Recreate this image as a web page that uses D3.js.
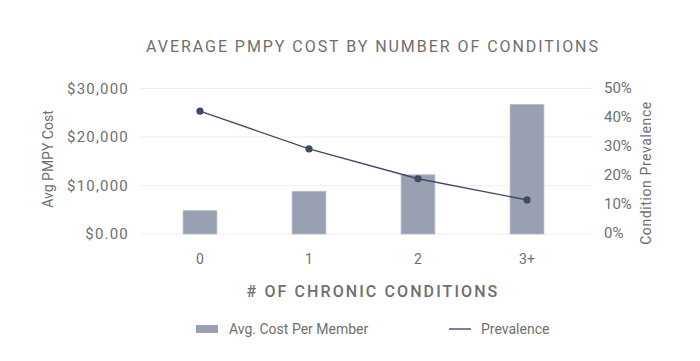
<!DOCTYPE html>
<html>
<head>
<meta charset="utf-8">
<script src="https://cdn.jsdelivr.net/npm/d3@7"></script>
<style>
  body { margin: 0; background: #fff; }
  text { font-family: Roboto, "Liberation Sans", sans-serif; fill: #6f6f6f; }
</style>
</head>
<body>
<svg id="chart" width="700" height="361"></svg>
<script>
var categories = ["0", "1", "2", "3+"];
var avgCost = [4800, 8800, 12200, 26700];
var prevalence = [0.42, 0.29, 0.187, 0.114];
var costTicks = [0, 10000, 20000, 30000];
var prevTicks = [0, 0.1, 0.2, 0.3, 0.4, 0.5];

var svg = d3.select("#chart");

var plotLeft = 140, plotRight = 592, plotTop = 88.5, plotBottom = 234;

var x = d3.scaleBand().domain(categories)
  .range([145.5, 581.5])
  .paddingInner(0.69)
  .paddingOuter(0.345);

var y = d3.scaleLinear().domain([0, 30000]).range([plotBottom, plotTop]);
var y2 = d3.scaleLinear().domain([0, 0.5]).range([233, 88]);

// gridlines
svg.append("g")
  .selectAll("line")
  .data(costTicks)
  .enter()
  .append("line")
    .attr("x1", plotLeft)
    .attr("x2", plotRight)
    .attr("y1", function(d) { return y(d) })
    .attr("y2", function(d) { return y(d) })
    .attr("stroke", "#efefef")
    .attr("stroke-width", 1);

// left axis
var yAxis = d3.axisLeft(y)
  .tickValues(costTicks)
  .tickSize(0)
  .tickPadding(11)
  .tickFormat(function(d) { return d == 0 ? "$0.00" : "$" + d3.format(",")(d) });

svg.append("g")
  .attr("transform", "translate(" + plotLeft + ",0)")
  .call(yAxis)
  .call(function(g) { g.select(".domain").remove() })
  .selectAll("text")
    .style("font-size", "15px")
    .style("letter-spacing", "1.2px")
    .attr("fill", "#6f6f6f");

// right axis
var y2Axis = d3.axisRight(y2)
  .tickValues(prevTicks)
  .tickSize(0)
  .tickPadding(12)
  .tickFormat(d3.format(".0%"));

svg.append("g")
  .attr("transform", "translate(" + plotRight + ",0)")
  .call(y2Axis)
  .call(function(g) { g.select(".domain").remove() })
  .selectAll("text")
    .style("font-size", "15px")
    .attr("fill", "#6f6f6f");

// x axis
var xAxis = d3.axisBottom(x).tickSize(0).tickPadding(20);
svg.append("g")
  .attr("transform", "translate(0," + plotBottom + ")")
  .call(xAxis)
  .call(function(g) { g.select(".domain").remove() })
  .selectAll("text")
    .style("font-size", "14px")
    .attr("fill", "#6f6f6f");

// bars
svg.append("g")
  .selectAll("rect")
  .data(avgCost)
  .enter()
  .append("rect")
    .attr("x", function(d, i) { return x(categories[i]) })
    .attr("y", function(d) { return y(d) })
    .attr("width", x.bandwidth())
    .attr("height", function(d) { return plotBottom - y(d) })
    .attr("fill", "#98a0b2")
    .attr("stroke", "#b4bac8")
    .attr("stroke-width", 0.8);

// prevalence line
var line = d3.line()
  .x(function(d, i) { return x(categories[i]) + x.bandwidth() / 2 })
  .y(function(d) { return y2(d) });

svg.append("path")
  .datum(prevalence)
  .attr("d", line)
  .attr("fill", "none")
  .attr("stroke", "#3e4b68")
  .attr("stroke-width", 1.4);

svg.append("g")
  .selectAll("circle")
  .data(prevalence)
  .enter()
  .append("circle")
    .attr("cx", function(d, i) { return x(categories[i]) + x.bandwidth() / 2 })
    .attr("cy", function(d) { return y2(d) })
    .attr("r", 3.6)
    .attr("fill", "#3e4b68");

// titles
svg.append("text")
  .attr("x", 373)
  .attr("y", 52)
  .attr("text-anchor", "middle")
  .style("font-size", "16px")
  .style("letter-spacing", "1.95px")
  .text("AVERAGE PMPY COST BY NUMBER OF CONDITIONS");

svg.append("text")
  .attr("x", 373)
  .attr("y", 297)
  .attr("text-anchor", "middle")
  .style("font-size", "16px")
  .style("font-weight", "500")
  .style("letter-spacing", "2.1px")
  .text("# OF CHRONIC CONDITIONS");

svg.append("text")
  .attr("transform", "translate(53,159) rotate(-90)")
  .attr("text-anchor", "middle")
  .style("font-size", "14px")
  .text("Avg PMPY Cost");

svg.append("text")
  .attr("transform", "translate(651,173) rotate(-90)")
  .attr("text-anchor", "middle")
  .style("font-size", "14px")
  .style("letter-spacing", "0.6px")
  .text("Condition Prevalence");

// legend
var legend = svg.append("g");
legend.append("rect")
  .attr("x", 196).attr("y", 325)
  .attr("width", 22).attr("height", 8)
  .attr("fill", "#98a0b2");
legend.append("text")
  .attr("x", 229).attr("y", 334)
  .style("font-size", "14px")
  .text("Avg. Cost Per Member");
legend.append("line")
  .attr("x1", 449).attr("x2", 471)
  .attr("y1", 329).attr("y2", 329)
  .attr("stroke", "#3e4b68")
  .attr("stroke-width", 1.4);
legend.append("text")
  .attr("x", 481).attr("y", 334)
  .style("font-size", "14px")
  .text("Prevalence");
</script>
</body>
</html>
